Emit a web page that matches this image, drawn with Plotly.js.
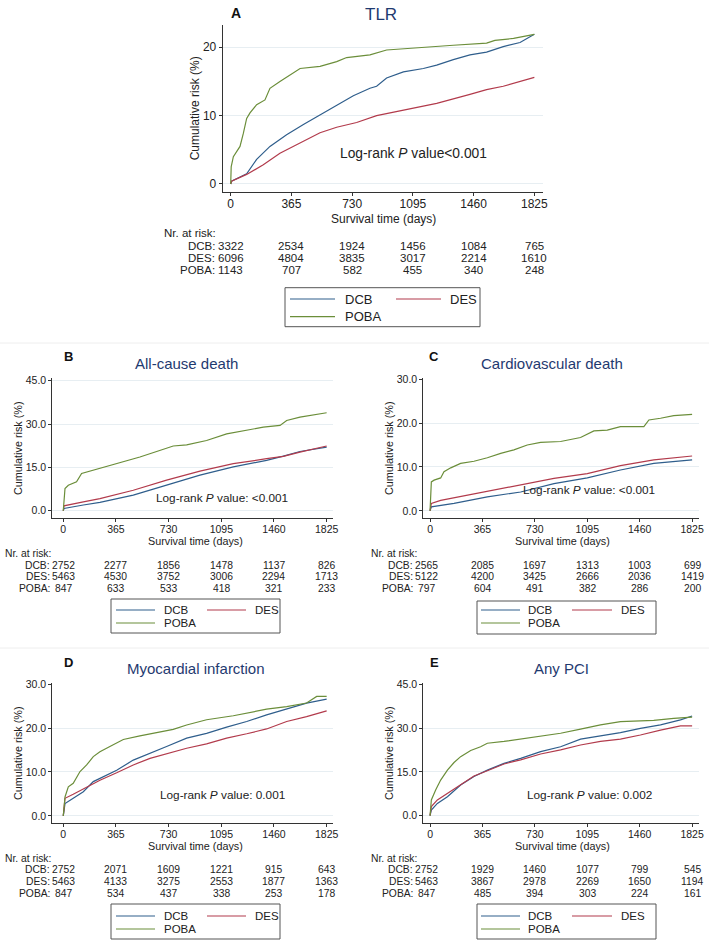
<!DOCTYPE html>
<html><head><meta charset="utf-8">
<script src="https://cdn.plot.ly/plotly-3.0.1.min.js"></script>
<style>html,body{margin:0;padding:0;background:#fff}#chart{width:709px;height:943px}</style>
</head><body><div id="chart"></div>
<script>
// ---------------- DATA ----------------
const groups = ['DCB', 'DES', 'POBA'];
const tickDays = [0, 365, 730, 1095, 1460, 1825];

// A: TLR
const tlr_days_dcb = [0, 5, 96, 156, 236, 336, 437, 537, 637, 737, 837, 877, 937, 1038, 1158, 1238, 1338, 1438, 1538, 1638, 1739, 1825];
const tlr_risk_dcb = [0, 0.4, 1.5, 3.6, 5.5, 7.2, 8.7, 10.1, 11.4, 12.9, 14.0, 14.3, 15.5, 16.4, 16.9, 17.4, 18.2, 18.9, 19.3, 20.1, 20.7, 21.9];
const tlr_days_des = [0, 5, 96, 196, 296, 437, 537, 637, 757, 877, 1038, 1238, 1438, 1538, 1638, 1739, 1825];
const tlr_risk_des = [0, 0.4, 1.4, 2.8, 4.5, 6.2, 7.5, 8.3, 9.0, 10.0, 10.8, 11.8, 13.1, 13.8, 14.3, 15.0, 15.6];
const tlr_days_poba = [0, 3, 16, 36, 56, 76, 96, 116, 156, 206, 236, 296, 357, 417, 537, 637, 697, 837, 937, 1138, 1338, 1538, 1588, 1700, 1825];
const tlr_risk_poba = [0, 2.5, 4.0, 4.8, 5.5, 7.4, 9.6, 10.4, 11.6, 12.3, 14.0, 15.0, 16.0, 16.9, 17.2, 17.9, 18.5, 18.9, 19.6, 20.0, 20.3, 20.6, 21.0, 21.3, 21.9];
const tlr_atrisk_dcb = [3322, 2534, 1924, 1456, 1084, 765];
const tlr_atrisk_des = [6096, 4804, 3835, 3017, 2214, 1610];
const tlr_atrisk_poba = [1143, 707, 582, 455, 340, 248];

// B: All-cause death
const acd_days_dcb = [0, 5, 139, 254, 485, 716, 947, 1178, 1409, 1525, 1640, 1825];
const acd_risk_dcb = [0, 0.8, 2.0, 2.9, 5.4, 8.8, 12.3, 15.2, 17.4, 18.9, 20.5, 22.0];
const acd_days_des = [0, 5, 139, 254, 485, 716, 947, 1178, 1409, 1525, 1640, 1825];
const acd_risk_des = [0, 1.7, 3.1, 4.2, 7.1, 10.6, 13.7, 16.3, 18.0, 18.8, 20.3, 22.4];
const acd_days_poba = [0, 5, 12, 35, 92, 127, 162, 254, 323, 416, 531, 647, 762, 855, 993, 1132, 1271, 1386, 1502, 1548, 1640, 1733, 1825];
const acd_risk_poba = [0, 5.0, 7.7, 8.8, 10.0, 12.9, 13.4, 14.8, 15.7, 16.9, 18.6, 20.5, 22.4, 22.8, 24.3, 26.6, 27.8, 28.9, 29.5, 31.2, 32.4, 33.2, 33.9];
const acd_atrisk_dcb = [2752, 2277, 1856, 1478, 1137, 826];
const acd_atrisk_des = [5463, 4530, 3752, 3006, 2294, 1713];
const acd_atrisk_poba = [847, 633, 533, 418, 321, 233];

// C: Cardiovascular death
const cvd_days_dcb = [0, 9, 167, 399, 631, 863, 1095, 1326, 1558, 1825];
const cvd_risk_dcb = [0, 0.9, 1.7, 3.2, 4.3, 6.2, 7.5, 9.3, 10.8, 11.6];
const cvd_days_des = [0, 9, 74, 167, 399, 631, 863, 1095, 1326, 1558, 1825];
const cvd_risk_des = [0, 1.7, 2.4, 3.0, 4.5, 5.9, 7.4, 8.5, 10.3, 11.6, 12.5];
const cvd_days_poba = [0, 9, 28, 74, 97, 144, 213, 306, 399, 492, 584, 677, 770, 909, 1048, 1141, 1234, 1326, 1489, 1524, 1605, 1697, 1825];
const cvd_risk_poba = [0, 6.6, 7.0, 7.5, 8.9, 9.8, 10.8, 11.3, 12.1, 13.1, 13.9, 15.0, 15.6, 15.8, 16.7, 18.2, 18.4, 19.2, 19.2, 20.7, 21.1, 21.7, 22.0];
const cvd_atrisk_dcb = [2565, 2085, 1697, 1313, 1003, 699];
const cvd_atrisk_des = [5122, 4200, 3425, 2666, 2036, 1419];
const cvd_atrisk_poba = [797, 604, 491, 382, 286, 200];

// D: Myocardial infarction
const mi_days_dcb = [0, 12, 69, 139, 208, 300, 370, 485, 601, 716, 855, 993, 1132, 1271, 1409, 1548, 1686, 1825];
const mi_risk_dcb = [0, 2.8, 4.0, 5.5, 7.8, 9.3, 10.4, 12.7, 14.2, 15.8, 17.7, 18.8, 20.2, 21.5, 23.0, 24.3, 25.7, 26.6];
const mi_days_des = [0, 12, 69, 162, 254, 370, 485, 601, 716, 855, 993, 1132, 1271, 1409, 1548, 1686, 1825];
const mi_risk_des = [0, 4.0, 4.9, 6.5, 8.1, 9.8, 11.6, 13.1, 14.2, 15.4, 16.4, 17.7, 18.7, 19.8, 21.5, 22.6, 23.9];
const mi_days_poba = [0, 12, 35, 69, 116, 162, 208, 254, 323, 416, 531, 670, 762, 855, 993, 1178, 1409, 1548, 1686, 1756, 1825];
const mi_risk_poba = [0, 4.3, 6.6, 7.4, 10.1, 11.6, 13.5, 14.6, 15.8, 17.4, 18.2, 19.0, 19.7, 20.7, 21.9, 22.8, 24.3, 24.9, 25.7, 27.2, 27.2];
const mi_atrisk_dcb = [2752, 2071, 1609, 1221, 915, 643];
const mi_atrisk_des = [5463, 4133, 3275, 2553, 1877, 1363];
const mi_atrisk_poba = [847, 534, 437, 338, 253, 178];

// E: Any PCI
const pci_days_dcb = [0, 9, 51, 121, 213, 306, 399, 515, 631, 770, 909, 1048, 1187, 1326, 1465, 1605, 1744, 1825];
const pci_risk_dcb = [0, 1.9, 4.2, 6.5, 10.5, 13.4, 15.6, 17.9, 19.6, 21.9, 23.6, 26.2, 27.3, 28.4, 29.9, 31.1, 32.8, 34.1];
const pci_days_des = [0, 9, 51, 121, 213, 306, 399, 515, 631, 770, 909, 1048, 1187, 1326, 1465, 1605, 1744, 1825];
const pci_risk_des = [0, 3.1, 5.4, 7.7, 10.5, 13.6, 15.4, 17.7, 19.1, 21.1, 22.5, 24.2, 25.4, 26.2, 27.6, 29.3, 30.7, 30.7];
const pci_days_poba = [0, 9, 39, 74, 121, 167, 213, 283, 352, 399, 515, 631, 770, 909, 1048, 1187, 1326, 1558, 1697, 1825];
const pci_risk_poba = [0, 5.4, 8.8, 12.2, 15.6, 18.2, 20.2, 22.3, 23.6, 24.8, 25.4, 26.2, 27.3, 28.2, 29.6, 31.1, 32.2, 32.6, 33.3, 33.7];
const pci_atrisk_dcb = [2752, 1929, 1460, 1077, 799, 545];
const pci_atrisk_des = [5463, 3867, 2978, 2269, 1650, 1194];
const pci_atrisk_poba = [847, 485, 394, 303, 224, 161];

// ---------------- STYLE / LAYOUT ----------------
const W = 709, H = 943;
const FONT = 'Liberation Sans, Arial, Helvetica, sans-serif';
const colors = ['#2f5e8c', '#b23b4c', '#6b8e3a'];
const NAVY = '#1f3a70';
const px = p => p / W;
const py = p => 1 - p / H;

const panels = [
  {letter: 'A', title: 'TLR', days: [tlr_days_dcb, tlr_days_des, tlr_days_poba], risk: [tlr_risk_dcb, tlr_risk_des, tlr_risk_poba],
   atrisk: [tlr_atrisk_dcb, tlr_atrisk_des, tlr_atrisk_poba], pval: 'Log-rank <i>P</i> value<0.001',
   xpx: [222.7, 543], xr: [-48, 1877], ypx: [25, 191.7], yr: [-1.13, 23.26], yticks: [0, 10, 20], yfmt: 'd',
   fs: {tick: 12, axt: 12, risk: 11.5, leg: 13, p: 13.8, title: 17, letter: 14},
   titlePos: [381, 15], letterPos: [235.5, 13], pPos: [413, 153], xtPos: [383, 219], nr: [162, 233], rowsY: [245.5, 257.5, 269.5], labR: 216, col0: 0,
   leg: {box: [285, 287.7, 480, 326.7], ry: [299, 316.7], l1: [290, 335], t1: 343, l2: [396, 441], t2: 448}},
  {letter: 'B', title: 'All-cause death', days: [acd_days_dcb, acd_days_des, acd_days_poba], risk: [acd_risk_dcb, acd_risk_des, acd_risk_poba],
   atrisk: [acd_atrisk_dcb, acd_atrisk_des, acd_atrisk_poba], pval: 'Log-rank <i>P</i> value: <0.001',
   xpx: [52.3, 333], xr: [-76, 1869], ypx: [378.3, 518.3], yr: [-2.6, 45.8], yticks: [0, 15, 30, 45], yfmt: '.1f',
   fs: {tick: 10.5, axt: 10.8, risk: 10.3, leg: 11.5, p: 11.8, title: 15, letter: 13},
   titlePos: [187, 363.3], letterPos: [68, 357], pPos: [222, 498], xtPos: [195, 540.5], nr: [3, 553], rowsY: [565, 576.5, 588], labR: 51, col0: 0,
   leg: {box: [111, 599, 280, 633], ry: [610, 623], l1: [116, 155], t1: 162, l2: [207, 246], t2: 253}},
  {letter: 'C', title: 'Cardiovascular death', days: [cvd_days_dcb, cvd_days_des, cvd_days_poba], risk: [cvd_risk_dcb, cvd_risk_des, cvd_risk_poba],
   atrisk: [cvd_atrisk_dcb, cvd_atrisk_des, cvd_atrisk_poba], pval: 'Log-rank <i>P</i> value: <0.001',
   xpx: [423.3, 699], xr: [-47, 1873], ypx: [378.3, 518.3], yr: [-1.7, 30.2], yticks: [0, 10, 20, 30], yfmt: '.1f',
   fs: {tick: 10.5, axt: 10.8, risk: 10.3, leg: 11.5, p: 11.8, title: 15, letter: 13},
   titlePos: [552, 363.3], letterPos: [434, 357], pPos: [589, 490], xtPos: [562, 540.5], nr: [369, 553], rowsY: [565, 576.5, 588], labR: 414, col0: -4,
   leg: {box: [477, 601, 656, 634], ry: [610, 623], l1: [481, 520], t1: 526, l2: [572, 612], t2: 619}},
  {letter: 'D', title: 'Myocardial infarction', days: [mi_days_dcb, mi_days_des, mi_days_poba], risk: [mi_risk_dcb, mi_risk_des, mi_risk_poba],
   atrisk: [mi_atrisk_dcb, mi_atrisk_des, mi_atrisk_poba], pval: 'Log-rank <i>P</i> value: 0.001',
   xpx: [52.3, 333], xr: [-76, 1869], ypx: [683.3, 823.3], yr: [-1.7, 30.2], yticks: [0, 10, 20, 30], yfmt: '.1f',
   fs: {tick: 10.5, axt: 10.8, risk: 10.3, leg: 11.5, p: 11.8, title: 15, letter: 13},
   titlePos: [196, 668.3], letterPos: [68, 662], pPos: [222, 795], xtPos: [195, 845.5], nr: [3, 858], rowsY: [869, 881, 893], labR: 51, col0: 0,
   leg: {box: [111, 904, 280, 939], ry: [916, 929], l1: [116, 155], t1: 162, l2: [207, 246], t2: 253}},
  {letter: 'E', title: 'Any PCI', days: [pci_days_dcb, pci_days_des, pci_days_poba], risk: [pci_risk_dcb, pci_risk_des, pci_risk_poba],
   atrisk: [pci_atrisk_dcb, pci_atrisk_des, pci_atrisk_poba], pval: 'Log-rank <i>P</i> value: 0.002',
   xpx: [423.3, 699], xr: [-47, 1873], ypx: [683.3, 823.3], yr: [-2.6, 45.3], yticks: [0, 15, 30, 45], yfmt: '.1f',
   fs: {tick: 10.5, axt: 10.8, risk: 10.3, leg: 11.5, p: 11.8, title: 15, letter: 13},
   titlePos: [561, 668.3], letterPos: [434, 662], pPos: [589, 795], xtPos: [562, 845.5], nr: [369, 858], rowsY: [869, 881, 893], labR: 414, col0: -4,
   leg: {box: [477, 904, 656, 939], ry: [916, 929], l1: [481, 520], t1: 526, l2: [572, 612], t2: 619}}
];

const traces = [];
const annotations = [];
const shapes = [];
const layout = {
  width: W, height: H, margin: {l: 0, r: 0, t: 0, b: 0},
  paper_bgcolor: '#ffffff', plot_bgcolor: '#ffffff', showlegend: false,
  font: {family: FONT, color: '#222'}, hovermode: false
};

// faint panel separators
shapes.push({type: 'line', xref: 'paper', yref: 'paper', x0: 0, x1: 1, y0: py(343), y1: py(343), line: {color: '#eeeeee', width: 1}});
shapes.push({type: 'line', xref: 'paper', yref: 'paper', x0: 0, x1: 1, y0: py(648), y1: py(648), line: {color: '#eeeeee', width: 1}});

panels.forEach((p, i) => {
  const n = i === 0 ? '' : String(i + 1);
  const xa = 'x' + n, ya = 'y' + n;
  layout['xaxis' + n] = {
    domain: [px(p.xpx[0]), px(p.xpx[1])], anchor: ya, range: p.xr,
    tickmode: 'array', tickvals: tickDays, ticktext: tickDays.map(String),
    ticks: 'outside', ticklen: 3, tickwidth: 1, tickcolor: '#333', ticklabelstandoff: -2,
    showline: true, linecolor: '#333', linewidth: 1, showgrid: false, zeroline: false,
    tickfont: {family: FONT, size: p.fs.tick, color: '#222'}
  };
  layout['yaxis' + n] = {
    domain: [py(p.ypx[1]), py(p.ypx[0])], anchor: xa, range: p.yr,
    tickmode: 'array', tickvals: p.yticks, tickformat: p.yfmt,
    ticks: 'outside', ticklen: 3, tickwidth: 1, tickcolor: '#333',
    showline: true, linecolor: '#333', linewidth: 1, showgrid: true, gridcolor: '#e7eef2', gridwidth: 1, zeroline: false,
    tickfont: {family: FONT, size: p.fs.tick, color: '#222'},
    title: {text: 'Cumulative risk (%)', font: {family: FONT, size: p.fs.axt, color: '#222'}, standoff: 0}
  };
  groups.forEach((g, k) => {
    traces.push({type: 'scatter', mode: 'lines', x: p.days[k], y: p.risk[k], xaxis: xa, yaxis: ya, name: g,
      line: {color: colors[k], width: 1.2, shape: 'linear'}, cliponaxis: true});
  });
  // x-axis title
  annotations.push({xref: 'paper', yref: 'paper', x: px(p.xtPos[0]), y: py(p.xtPos[1]), xanchor: 'center', yanchor: 'middle',
    text: 'Survival time (days)', showarrow: false, borderpad: 0, font: {family: FONT, size: p.fs.axt, color: '#222'}});
  // panel letter & title
  annotations.push({xref: 'paper', yref: 'paper', x: px(p.letterPos[0]), y: py(p.letterPos[1]), xanchor: 'center', yanchor: 'middle',
    text: '<b>' + p.letter + '</b>', showarrow: false, font: {family: FONT, size: p.fs.letter, color: '#111'}});
  annotations.push({xref: 'paper', yref: 'paper', x: px(p.titlePos[0]), y: py(p.titlePos[1]), xanchor: 'center', yanchor: 'middle',
    text: p.title, showarrow: false, font: {family: FONT, size: p.fs.title, color: NAVY}});
  // p value
  annotations.push({xref: 'paper', yref: 'paper', x: px(p.pPos[0]), y: py(p.pPos[1]), xanchor: 'center', yanchor: 'middle',
    text: p.pval, showarrow: false, font: {family: FONT, size: p.fs.p, color: '#222'}});
  // risk table
  annotations.push({xref: 'paper', yref: 'paper', x: px(p.nr[0]), y: py(p.nr[1]), xanchor: 'left', yanchor: 'middle',
    text: 'Nr. at risk:', showarrow: false, font: {family: FONT, size: p.fs.risk, color: '#222'}});
  groups.forEach((g, k) => {
    annotations.push({xref: 'paper', yref: 'paper', x: px(p.labR), y: py(p.rowsY[k]), xanchor: 'right', yanchor: 'middle',
      text: g + ':', showarrow: false, borderpad: 0, font: {family: FONT, size: p.fs.risk, color: '#222'}});
    p.atrisk[k].forEach((v, j) => {
      annotations.push({xref: xa, yref: 'paper', x: tickDays[j], y: py(p.rowsY[k]), xanchor: 'center', yanchor: 'middle',
        xshift: j === 0 ? p.col0 : 0, text: String(v), showarrow: false, borderpad: 0, font: {family: FONT, size: p.fs.risk, color: '#222'}});
    });
  });
  // legend box
  const L = p.leg;
  shapes.push({type: 'rect', xref: 'paper', yref: 'paper', x0: px(L.box[0]), x1: px(L.box[2]), y0: py(L.box[3]), y1: py(L.box[1]),
    line: {color: '#555', width: 1}, fillcolor: 'rgba(0,0,0,0)'});
  const items = [[L.l1, L.t1, L.ry[0]], [L.l2, L.t2, L.ry[0]], [L.l1, L.t1, L.ry[1]]];
  items.forEach((it, k) => {
    shapes.push({type: 'line', xref: 'paper', yref: 'paper', x0: px(it[0][0]), x1: px(it[0][1]), y0: py(it[2]), y1: py(it[2]),
      line: {color: colors[k], width: 1.2}});
    annotations.push({xref: 'paper', yref: 'paper', x: px(it[1]), y: py(it[2]), xanchor: 'left', yanchor: 'middle',
      text: groups[k], showarrow: false, font: {family: FONT, size: p.fs.leg, color: '#222'}});
  });
});

layout.annotations = annotations;
layout.shapes = shapes;
Plotly.newPlot('chart', traces, layout, {staticPlot: true, displayModeBar: false});
</script>
</body></html>
